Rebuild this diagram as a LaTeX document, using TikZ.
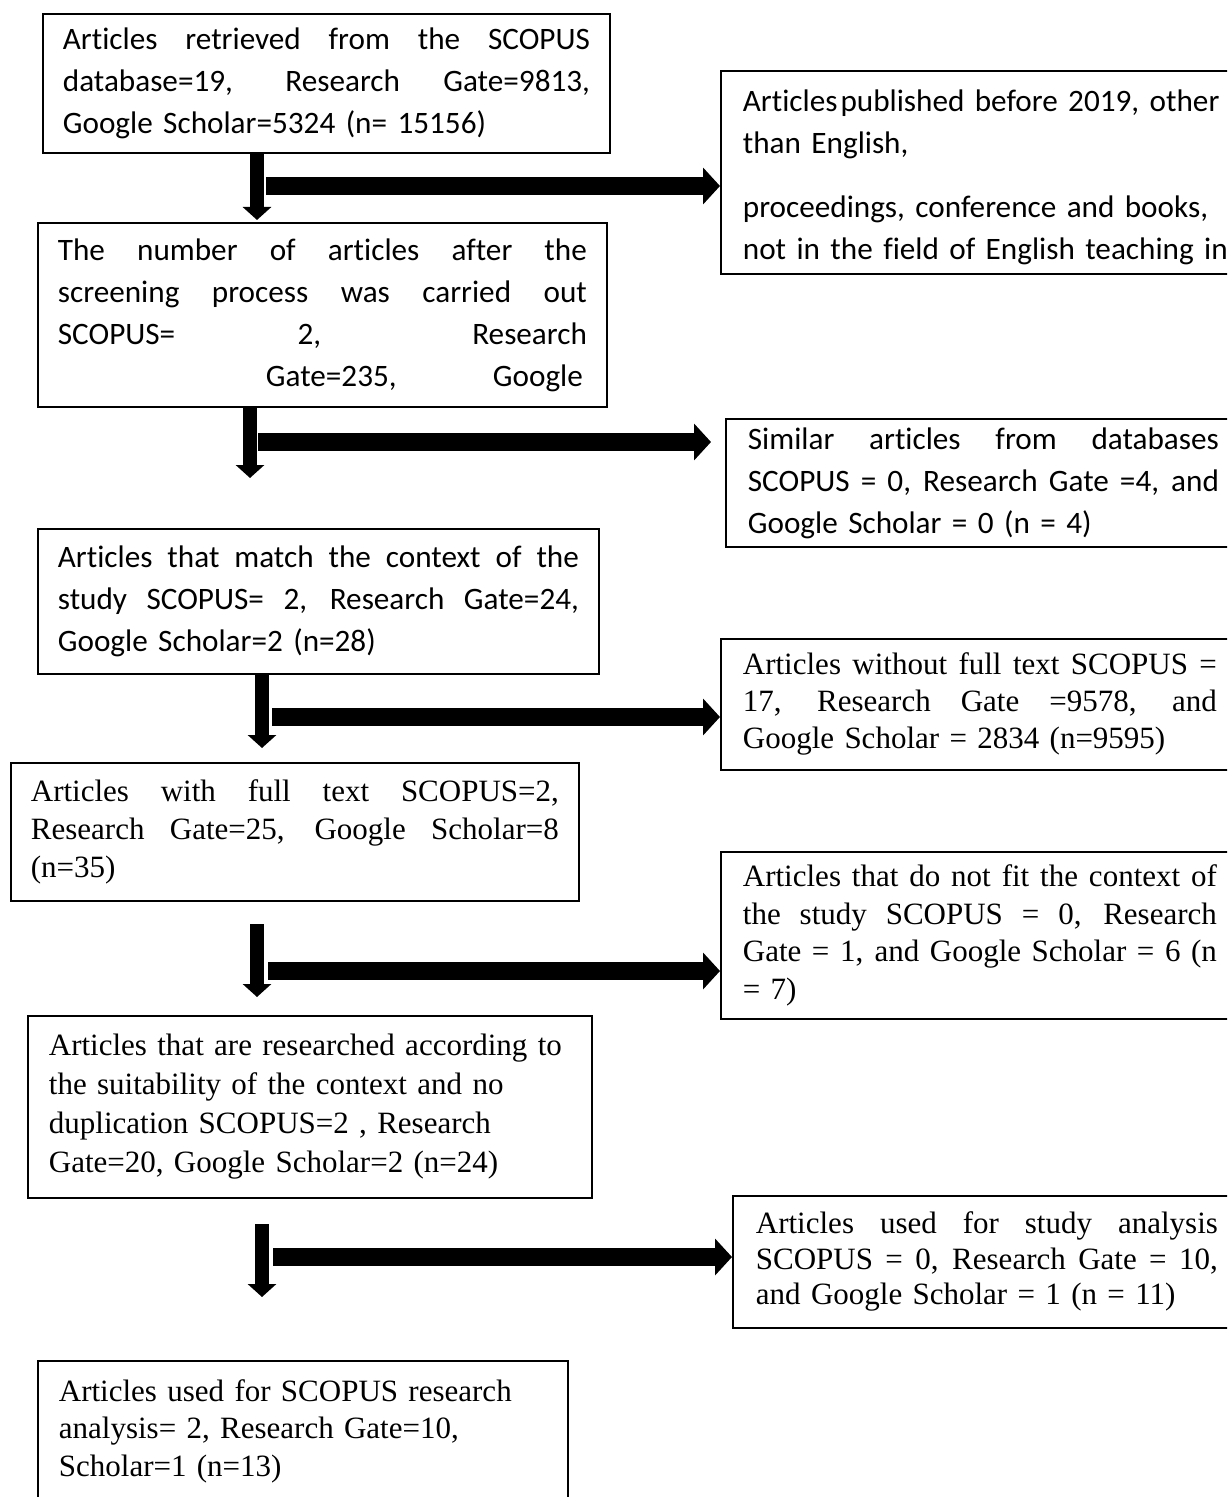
\documentclass[tikz,border=0pt]{standalone}
\usepackage{fontspec}
\newfontfamily\calibrifont[Ligatures=NoCommon]{Carlito}
\newfontfamily\timesfont{Liberation Serif}
\usetikzlibrary{arrows.meta}
\newcommand\jline[1]{\leavevmode\hbox to \hsize{\spaceskip=\fontdimen2\font plus 1fil\relax #1}}

\begin{document}
\begin{tikzpicture}[x=0.5pt,y=-0.5pt,
  flowbox/.style={draw,line width=0.9pt,anchor=north west,inner xsep=10pt,inner ysep=0pt,align=left},
  calbox/.style={flowbox,font=\calibrifont\fontsize{15.6}{21}\selectfont},
  timbox/.style={flowbox,font=\timesfont\fontsize{15.5}{19}\selectfont},
  downarr/.style={line width=6.75pt,-{Triangle[width=14pt,length=6.5pt]}},
  sidearr/.style={line width=9pt,-{Triangle[width=18pt,length=8.5pt]}}]
\useasboundingbox (0,0) rectangle (1227,1497);
\clip (0,0) rectangle (1227,1497);

% left column
\node[calbox,text width=263.5pt,minimum height=69.5pt] (b1) at (42,13)
  {\jline{Articles retrieved from the SCOPUS}\\
   \jline{database=19, Research Gate=9813,}\\
   Google Scholar=5324 (n= 15156)};
\node[calbox,text width=264.5pt,minimum height=92pt] (b2) at (37,222)
  {\jline{The number of articles after the}\\
   \jline{screening process was carried out}\\
   \jline{SCOPUS= 2, Research}\\
   \jline{\hspace*{104pt}Gate=235, Google\hspace*{2pt}}};
\node[calbox,text width=260.5pt,minimum height=72.5pt] (b3) at (37,528)
  {\jline{Articles that match the context of the}\\
   \jline{study SCOPUS= 2, Research Gate=24,}\\
   Google Scholar=2 (n=28)};
\node[timbox,text width=264pt,minimum height=69pt] (b4) at (10,762)
  {\jline{Articles with full text SCOPUS=2,}\\
   \jline{Research Gate=25, Google Scholar=8}\\
   (n=35)};
\node[timbox,inner xsep=10.5pt,text width=261pt,minimum height=91pt,
  font=\timesfont\fontsize{15.5}{19.5}\selectfont] (b5) at (27,1015)
  {Articles that are researched according to\\
   the suitability of the context and no\\
   duplication SCOPUS=2 , Research\\
   Gate=20, Google Scholar=2 (n=24)};
\node[timbox,inner xsep=10.5pt,text width=244pt,minimum height=70pt,
  font=\timesfont\fontsize{15.5}{18.75}\selectfont] (b6) at (37,1360)
  {Articles used for SCOPUS research\\
   analysis= 2, Research Gate=10,\\
   Scholar=1 (n=13)};

% right column
\node[calbox,inner xsep=11pt,text width=250pt,minimum height=101.5pt] (r1) at (720,70)
  {\rule{0pt}{16pt}Articles\hspace{1.5pt}published before 2019, other\\
   than English,\\[11pt]
   proceedings, conference and books,\\
   not in the field of English teaching in};
\node[calbox,inner xsep=11pt,text width=235.5pt,minimum height=64pt] (r2) at (725,418)
  {\jline{Similar articles from databases}\\
   \jline{SCOPUS = 0, Research Gate =4, and}\\
   Google Scholar = 0 (n = 4)};
\node[timbox,inner xsep=11pt,text width=237pt,minimum height=65.5pt,
  font=\timesfont\fontsize{15.5}{18.5}\selectfont] (r3) at (720,638)
  {\jline{Articles without full text SCOPUS =}\\
   \jline{17, Research Gate =9578, and}\\
   Google Scholar = 2834 (n=9595)};
\node[timbox,inner xsep=11pt,text width=237pt,minimum height=83.5pt,
  font=\timesfont\fontsize{15.5}{18.7}\selectfont] (r4) at (720,851)
  {\jline{Articles that do not fit the context of}\\
   \jline{the study SCOPUS = 0, Research}\\
   \jline{Gate = 1, and Google Scholar = 6 (n}\\
   = 7)};
\node[timbox,inner xsep=11.5pt,text width=231pt,minimum height=66pt,
  font=\timesfont\fontsize{15.5}{17.75}\selectfont] (r5) at (732,1195)
  {\jline{Articles used for study analysis}\\
   \jline{SCOPUS = 0, Research Gate = 10,}\\
   and Google Scholar = 1 (n = 11)};

% arrow ends
\coordinate (d1) at (257,220);
\coordinate (d2) at (250,478);
\coordinate (d3) at (262,748);
\coordinate (u4) at (257,924);
\coordinate (d4) at (257,997);
\coordinate (u5) at (262,1224);
\coordinate (d5) at (262,1297);
\coordinate (s1) at (266,186);
\coordinate (s2) at (258,442);
\coordinate (s3) at (272,717);
\coordinate (s4) at (268,971);
\coordinate (s5) at (273,1257);

\draw[downarr] (b1.south -| d1) -- (d1);
\draw[downarr] (b2.south -| d2) -- (d2);
\draw[downarr] (b3.south -| d3) -- (d3);
\draw[downarr] (u4) -- (d4);
\draw[downarr] (u5) -- (d5);

\draw[sidearr] (s1) -- (s1 -| r1.west);
\draw[sidearr] (s2) -- ([xshift=-7pt]s2 -| r2.west);
\draw[sidearr] (s3) -- (s3 -| r3.west);
\draw[sidearr] (s4) -- (s4 -| r4.west);
\draw[sidearr] (s5) -- (s5 -| r5.west);
\end{tikzpicture}
\end{document}
